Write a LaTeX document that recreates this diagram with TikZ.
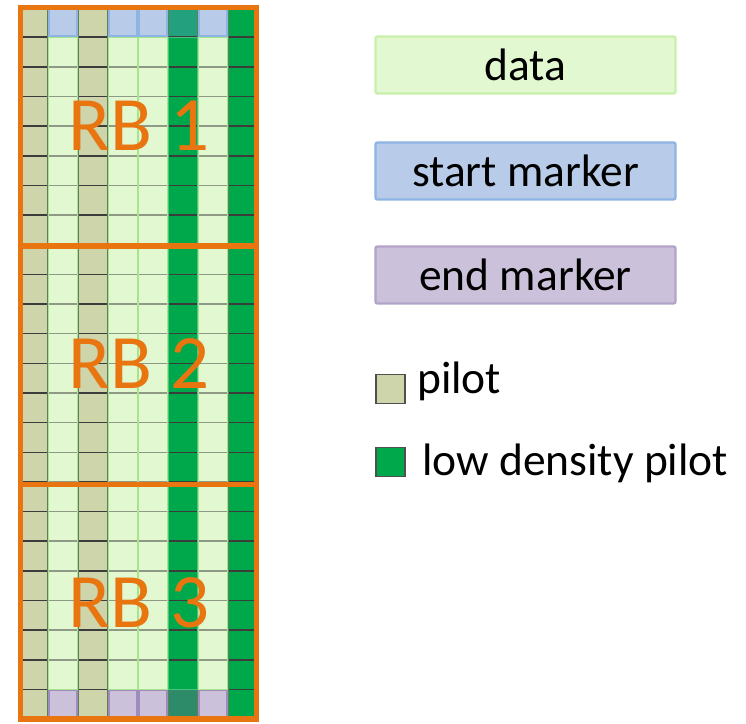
\documentclass[tikz,border=0pt]{standalone}
\usepackage{fontspec}
\setmainfont{Carlito}
\definecolor{pilotc}{HTML}{CFD5AA}
\definecolor{ldc}{HTML}{00A84C}
\definecolor{datac}{HTML}{E2F8D0}
\definecolor{datab}{HTML}{A8E48C}
\definecolor{datalegb}{HTML}{C8F0AC}
\definecolor{startc}{HTML}{B8CCE9}
\definecolor{startb}{HTML}{8EB4E3}
\definecolor{endc}{HTML}{CCC1DA}
\definecolor{endb}{HTML}{A08CBC}
\definecolor{tealtop}{HTML}{23A07D}
\definecolor{tealbot}{HTML}{2E8B6A}
\definecolor{orangec}{HTML}{E8750F}
\definecolor{gridc}{HTML}{3C3C3C}
\definecolor{vgridc}{HTML}{5E7F5A}
\tikzset{
  orangeline/.style={draw=orangec,line width=5.5},
  hline/.style={draw=gridc,line width=1.5},
  vline/.style={draw=vgridc,line width=1.4},
  dataover/.style={fill=datac,fill opacity=0.5,draw=datab,line width=1.3},
  ldover/.style={draw=ldc!70!white,line width=1.2},
  startcell/.style={draw=startb,line width=1.8},
  endcell/.style={draw=endb,line width=1.8},
  rblabel/.style={text=orangec,font=\fontsize{77}{80}\selectfont,inner sep=0,anchor=base},
  legbox/.style={minimum width=300,minimum height=57,inner sep=0,line width=2.4,rounded corners=2,font=\fontsize{45.5}{48}\selectfont},
  legtext/.style={font=\fontsize{45.5}{48}\selectfont,inner sep=0,anchor=base west},
  legsq/.style={minimum width=29,minimum height=29,inner sep=0,draw=gridc!90,line width=1.2}
}
\begin{document}
\begin{tikzpicture}[x=1pt,y=-1pt]
\useasboundingbox (0,0) rectangle (746,723);
\fill[white] (0,0) rectangle (746,723);
% column fills
\foreach \c in {0,2} \fill[pilotc] ({18+\c*30},7.5) rectangle ({18+(\c+1)*30},719.1);
\foreach \c in {1,3,4,6} \fill[datac] ({18+\c*30},7.5) rectangle ({18+(\c+1)*30},719.1);
\foreach \c in {5,7} \fill[ldc] ({18+\c*30},7.5) rectangle ({18+(\c+1)*30},719.1);
% marker rows
\foreach \c in {1,3,4,6} {
  \fill[startc] ({18+\c*30},7.5) rectangle ({18+(\c+1)*30},37.15);
  \fill[endc] ({18+\c*30},689.45) rectangle ({18+(\c+1)*30},719.1);
}
\fill[tealtop] (168,7.5) rectangle (198,37.15);
\fill[tealbot] (168,689.45) rectangle (198,719.1);
% grid lines
\foreach \r in {1,...,23} \draw[hline] (18,{7.5+\r*29.65}) -- (258,{7.5+\r*29.65});
\foreach \c in {1,...,7} \draw[vline] ({18+\c*30},7.5) -- ({18+\c*30},719.1);
% data overlays
\foreach \c in {1,3,4,6} \draw[dataover] ({18+\c*30+0.8},37.15) rectangle ({18+(\c+1)*30-0.8},689.45);
\foreach \c in {5} \draw[ldover] ({18+\c*30+0.8},37.15) rectangle ({18+(\c+1)*30-0.8},689.45);
% marker borders
\foreach \c in {1,3,4,6} {
  \draw[startcell] ({18+\c*30+1},8.5) rectangle ({18+(\c+1)*30-1},36.2);
  \draw[endcell] ({18+\c*30+1},690.4) rectangle ({18+(\c+1)*30-1},718);
}
% orange RB frames
\draw[orangeline] (20.5,7.5) rectangle (256.5,719);
\draw[orangeline] (20.5,246) -- (256.5,246);
\draw[orangeline] (20.5,484.5) -- (256.5,484.5);
\node[rblabel] (rb1) at (139,150) {RB 1};
\node[rblabel] (rb2) at (139,388) {RB 2};
\node[rblabel] (rb3) at (139,627) {RB 3};
% legend
\node[legbox,fill=datac,draw=datalegb] (ldata) at (525.5,65) {data};
\node[legbox,fill=startc,draw=startb] (lstart) at (525.5,171) {start marker};
\node[legbox,fill=endc,draw=endb!80!white] (lend) at (525.5,275) {end marker};
\node[legsq,fill=pilotc] (lpilotbox) at (390.5,389) {};
\node[legtext] (lpilot) at (417,393) {pilot};
\node[legsq,fill=ldc] (lldbox) at (390.5,462) {};
\node[legtext] (lld) at (422,475) {low density pilot};
\end{tikzpicture}
\end{document}
